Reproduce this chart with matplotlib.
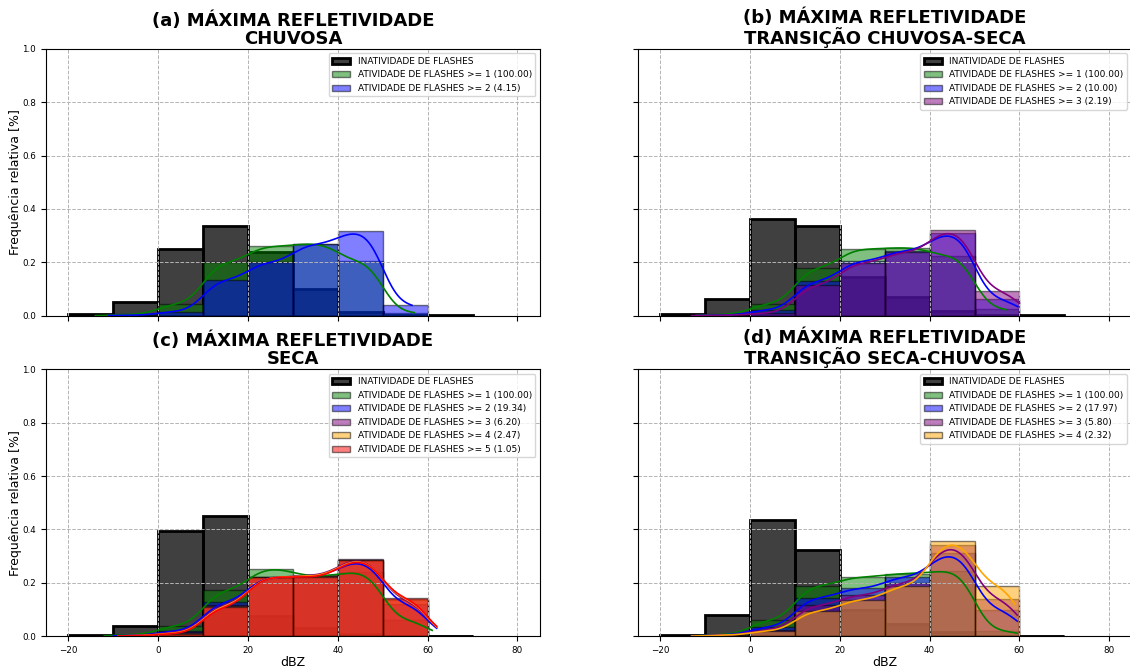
import math
import numpy as np
import matplotlib
matplotlib.use("Agg")
import matplotlib.pyplot as plt

# limites das classes de refletividade (dBZ)
bordas = [-20, -10, 0, 10, 20, 30, 40, 50, 60, 70]

# frequencias relativas lidas por classe
# (a) chuvosa
inat_a = [0.005, 0.05, 0.25, 0.337, 0.24, 0.10, 0.015, 0.002, 0.002]
a1_a = [0.0, 0.005, 0.045, 0.20, 0.26, 0.27, 0.205, 0.012, 0.0]
a2_a = [0.0, 0.002, 0.016, 0.135, 0.20, 0.268, 0.316, 0.04, 0.0]

# (b) transicao chuvosa-seca
inat_b = [0.005, 0.062, 0.362, 0.337, 0.146, 0.069, 0.018, 0.002, 0.002]
a1_b = [0.0, 0.005, 0.045, 0.18, 0.25, 0.255, 0.225, 0.025, 0.0]
a2_b = [0.0, 0.002, 0.022, 0.13, 0.205, 0.243, 0.31, 0.062, 0.0]
a3_b = [0.0, 0.002, 0.01, 0.115, 0.198, 0.237, 0.32, 0.094, 0.0]

# (c) seca
inat_c = [0.003, 0.039, 0.395, 0.45, 0.075, 0.03, 0.01, 0.002, 0.002]
a1_c = [0.0, 0.006, 0.04, 0.172, 0.253, 0.225, 0.24, 0.06, 0.0]
a2_c = [0.0, 0.003, 0.02, 0.128, 0.222, 0.225, 0.28, 0.12, 0.0]
a3_c = [0.0, 0.002, 0.015, 0.118, 0.22, 0.228, 0.29, 0.135, 0.0]
a4_c = [0.0, 0.002, 0.012, 0.114, 0.222, 0.225, 0.287, 0.14, 0.0]
a5_c = [0.0, 0.002, 0.01, 0.11, 0.222, 0.222, 0.285, 0.143, 0.002]

# (d) transicao seca-chuvosa
inat_d = [0.005, 0.079, 0.437, 0.322, 0.097, 0.045, 0.015, 0.002, 0.002]
a1_d = [0.0, 0.006, 0.06, 0.19, 0.222, 0.235, 0.245, 0.02, 0.0]
a2_d = [0.0, 0.005, 0.035, 0.145, 0.18, 0.222, 0.31, 0.1, 0.0]
a3_d = [0.0, 0.004, 0.025, 0.116, 0.154, 0.2, 0.34, 0.14, 0.0]
a4_d = [0.0, 0.004, 0.02, 0.095, 0.137, 0.188, 0.357, 0.19, 0.0]

# intervalo (min, max) dos dados de cada serie, usado no corte da KDE
lim_a = [(-14, 57), (-11, 56.5)]
lim_b = [(-12, 57), (-12, 59.6), (-13, 60)]
lim_c = [(-12, 61), (-10, 62), (-9, 62), (-9, 62), (-9, 62)]
lim_d = [(-13, 59.5), (-13, 59.5), (-13, 59.5), (-13, 59)]

# porcentagens da legenda
pct_a = ["100.00", "4.15"]
pct_b = ["100.00", "10.00", "2.19"]
pct_c = ["100.00", "19.34", "6.20", "2.47", "1.05"]
pct_d = ["100.00", "17.97", "5.80", "2.32"]

titulos = ["(a) MÁXIMA REFLETIVIDADE\nCHUVOSA",
           "(b) MÁXIMA REFLETIVIDADE\nTRANSIÇÃO CHUVOSA-SECA",
           "(c) MÁXIMA REFLETIVIDADE\nSECA",
           "(d) MÁXIMA REFLETIVIDADE\nTRANSIÇÃO SECA-CHUVOSA"]

cores = ["green", "blue", "purple", "orange", "red"]

paineis = [
    (inat_a, [a1_a, a2_a], lim_a, pct_a),
    (inat_b, [a1_b, a2_b, a3_b], lim_b, pct_b),
    (inat_c, [a1_c, a2_c, a3_c, a4_c, a5_c], lim_c, pct_c),
    (inat_d, [a1_d, a2_d, a3_d, a4_d], lim_d, pct_d),
]

erf = np.vectorize(math.erf)


def curva_kde(probs, lo, hi, h=3.0):
    # histograma suavizado por kernel gaussiano, na escala de probabilidade
    xs = np.linspace(lo, hi, 300)
    ys = np.zeros_like(xs)
    larg = bordas[1] - bordas[0]
    for esq, p in zip(bordas[:-1], probs):
        c1 = 0.5 * (1 + erf((xs - esq) / (h * np.sqrt(2))))
        c2 = 0.5 * (1 + erf((xs - esq - larg) / (h * np.sqrt(2))))
        ys += p * (c1 - c2)
    return xs, ys


fig, axes = plt.subplots(2, 2, figsize=(11.3, 6.68), dpi=100, sharex=True, sharey=True)
fig.subplots_adjust(left=0.0407, right=1.0015, top=0.9271, bottom=0.0475,
                    wspace=0.198, hspace=0.2)

esquerdas = bordas[:-1]
for ax, titulo, (inat, ativs, lims, pcts) in zip(axes.flat, titulos, paineis):
    ax.bar(esquerdas, inat, width=10, align='edge', facecolor=(0, 0, 0, 0.75),
           edgecolor='black', linewidth=2, label='INATIVIDADE DE FLASHES')
    for i, (serie, (lo, hi), pct) in enumerate(zip(ativs, lims, pcts)):
        ax.bar(esquerdas, serie, width=10, align='edge', color=cores[i], alpha=0.5,
               edgecolor='black', linewidth=1,
               label=f'ATIVIDADE DE FLASHES >= {i + 1} ({pct})')
        xs, ys = curva_kde(serie, lo, hi)
        ax.plot(xs, ys, color=cores[i], linewidth=1.2)
    ax.set_title(titulo, fontsize=13, fontweight='bold', linespacing=1.0, pad=3.5)
    ax.grid(True, linestyle='--', color='#b4b4b4', linewidth=0.7)
    ax.legend(loc='upper right', fontsize=6.5)
    ax.tick_params(labelsize=6.3)

axes[0, 0].set_xlim(-25, 85)
axes[0, 0].set_ylim(0, 1)
axes[0, 0].set_xticks([-20, 0, 20, 40, 60, 80])
axes[0, 0].set_ylabel('Frequência relativa [%]', fontsize=9, labelpad=0)
axes[1, 0].set_ylabel('Frequência relativa [%]', fontsize=9, labelpad=0)
axes[1, 0].set_xlabel('dBZ', fontsize=9, labelpad=1)
axes[1, 1].set_xlabel('dBZ', fontsize=9, labelpad=1)

plt.savefig('out.png', dpi=100)
